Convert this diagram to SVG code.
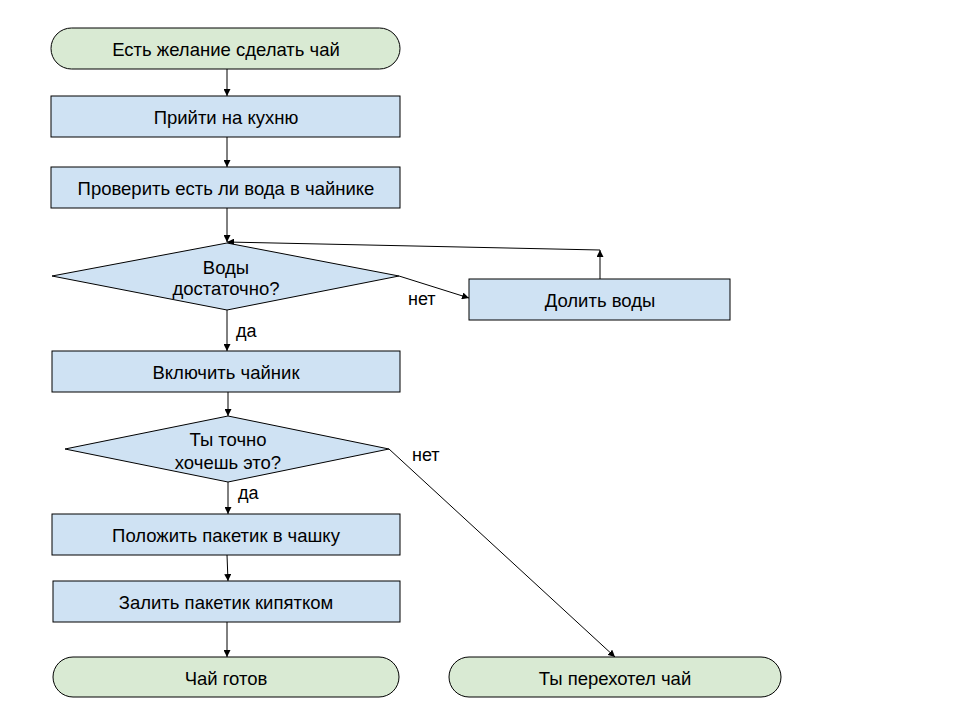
<svg xmlns="http://www.w3.org/2000/svg" width="960" height="720" viewBox="0 0 960 720">
<style>
.term{fill:#d9ead3;stroke:#000;stroke-width:1}
.proc{fill:#cfe2f3;stroke:#000;stroke-width:1}
.t{font-family:"Liberation Sans",Arial,sans-serif;font-size:18.5px;fill:#000;text-anchor:middle;dominant-baseline:central}
.lbl{font-family:"Liberation Sans",Arial,sans-serif;font-size:18px;fill:#000}
.c{fill:none;stroke:#000;stroke-width:1;marker-end:url(#ah)}
</style>
<defs>
<marker id="ah" viewBox="0 0 10 10" refX="10" refY="5" markerWidth="7" markerHeight="7" markerUnits="userSpaceOnUse" orient="auto">
<path d="M0,0 L10,5 L0,10 z" fill="#000"/>
</marker>
</defs>
<rect width="960" height="720" fill="#fff"/>
<g id="connectors">
<path class="c" d="M227,69 V96"/>
<path class="c" d="M227,137 V167"/>
<path class="c" d="M227,208 V242"/>
<path class="c" d="M399,276 L469,298"/>
<path class="c" d="M600,279 V250"/>
<path class="c" d="M600,250 L227,242"/>
<path class="c" d="M227,310 V351"/>
<path class="c" d="M228,392 V416"/>
<path class="c" d="M228,482 V514"/>
<path class="c" d="M227,555 L228,581"/>
<path class="c" d="M227,622 V657"/>
<path class="c" d="M389,449 L615,657"/>
<text class="lbl" x="408" y="305">нет</text>
<text class="lbl" x="236" y="337">да</text>
<text class="lbl" x="412" y="461">нет</text>
<text class="lbl" x="238" y="499">да</text>
</g>
<g id="start"><rect class="term" x="51" y="28" width="349" height="41" rx="20.5"/><text class="t" x="226" y="49">Есть желание сделать чай</text></g>
<g id="kitchen"><rect class="proc" x="51" y="96" width="349" height="41"/><text class="t" x="226" y="117">Прийти на кухню</text></g>
<g id="check"><rect class="proc" x="51" y="167" width="349" height="41"/><text class="t" x="226" y="188">Проверить есть ли вода в чайнике</text></g>
<g id="enough"><path class="proc" d="M227,243 L399,276 L227,310 L52,276 Z"/><text class="t" x="226" y="267">Воды</text><text class="t" x="226" y="288">достаточно?</text></g>
<g id="addwater"><rect class="proc" x="469" y="279" width="261" height="41"/><text class="t" x="600" y="300">Долить воды</text></g>
<g id="kettle"><rect class="proc" x="52" y="351" width="348" height="41"/><text class="t" x="226" y="372">Включить чайник</text></g>
<g id="sure"><path class="proc" d="M228,416 L389,449 L228,482 L65,449 Z"/><text class="t" x="228" y="439">Ты точно</text><text class="t" x="228" y="462">хочешь это?</text></g>
<g id="bag"><rect class="proc" x="52" y="514" width="348" height="41"/><text class="t" x="226" y="535">Положить пакетик в чашку</text></g>
<g id="pour"><rect class="proc" x="53" y="581" width="347" height="41"/><text class="t" x="226" y="602">Залить пакетик кипятком</text></g>
<g id="ready"><rect class="term" x="53" y="657" width="346" height="40" rx="20"/><text class="t" x="226" y="678">Чай готов</text></g>
<g id="changed"><rect class="term" x="449" y="657" width="332" height="40" rx="20"/><text class="t" x="615" y="678">Ты перехотел чай</text></g>
</svg>
